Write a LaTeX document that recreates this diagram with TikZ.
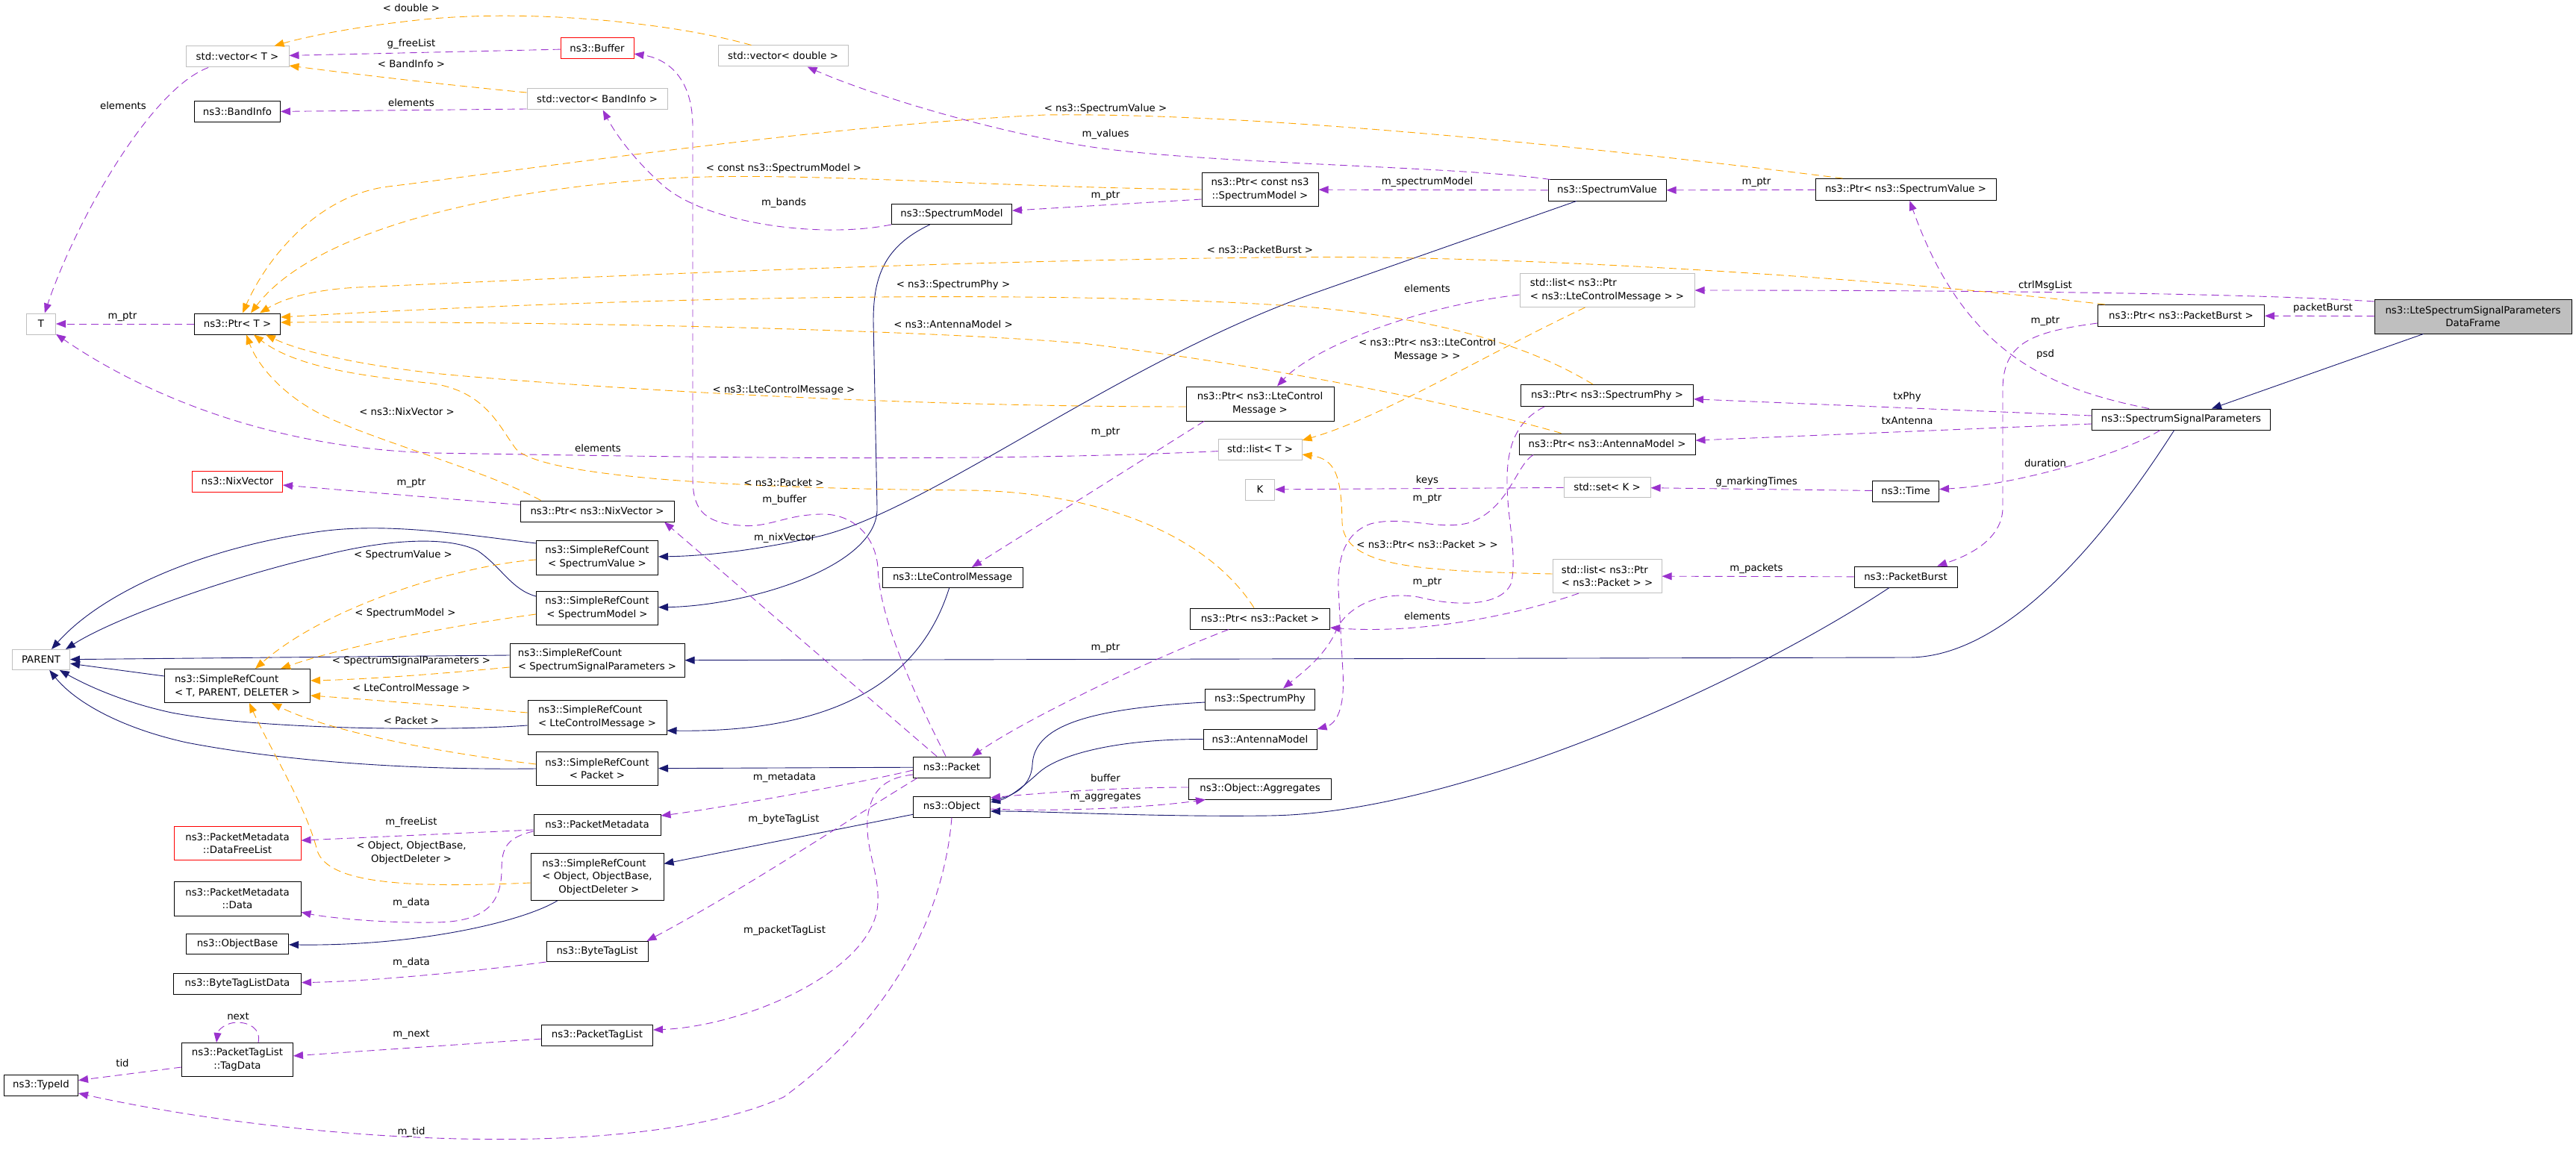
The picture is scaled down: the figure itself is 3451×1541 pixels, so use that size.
\documentclass[tikz,border=0pt]{standalone}
\usepackage{fontspec}
\setmainfont{DejaVu Sans}
\usetikzlibrary{arrows.meta,calc}

\definecolor{navyc}{HTML}{191970}
\definecolor{orchidc}{HTML}{9A32CD}
\definecolor{orangec}{HTML}{FFA500}
\definecolor{greyc}{HTML}{BFBFBF}

\begin{document}
\begin{tikzpicture}[x=1pt, y=-1pt,
  font=\fontsize{13.3}{17.5}\selectfont,
  cls/.style 2 args={draw=black, line width=1pt, fill=white, inner sep=0pt,
    align=center, minimum width=#1pt, minimum height=#2pt},
  ext/.style={draw=greyc},
  trunc/.style={draw=red},
  selfcls/.style={fill=greyc},
  inh/.style={draw=navyc, line width=0.9pt, -{Triangle[length=13pt,width=10pt]}},
  member/.style={draw=orchidc, line width=0.9pt, dash pattern=on 10pt off 6pt,
    -{Triangle[length=13pt,width=10pt]}},
  tmpl/.style={member, draw=orangec},
  lbl/.style={inner sep=0pt, align=center}]

\useasboundingbox (0,0) rectangle (3451,1541);

% ---------- узлы: столбцы идут по рангам графа, координаты в пикселях исходника
\node[cls={138}{28}, ext] (vecT) at (318,76) {std::vector< T >};
\node[cls={115}{28}] (bandinfo) at (318,150) {ns3::BandInfo};
\node[cls={39}{28}, ext] (T) at (55,434) {T};
\node[cls={115}{28}] (ptrT) at (318,434) {ns3::Ptr< T >};
\node[cls={121}{28}, trunc] (nixvec) at (318,645) {ns3::NixVector};
\node[cls={77}{27}, ext] (parent) at (55,884) {PARENT};
\node[cls={195}{45}, align=left] (srcTPD) at (318,919) {ns3::SimpleRefCount\\< T, PARENT, DELETER >};
\node[cls={170}{45}, trunc] (freelist) at (318,1130) {ns3::PacketMetadata\\::DataFreeList};
\node[cls={170}{46}] (pmdata) at (318,1204) {ns3::PacketMetadata\\::Data};
\node[cls={137}{27}] (objbase) at (318,1265) {ns3::ObjectBase};
\node[cls={171}{28}] (btldata) at (318,1318) {ns3::ByteTagListData};
\node[cls={149}{45}] (tagdata) at (318,1420) {ns3::PacketTagList\\::TagData};
\node[cls={99}{28}] (typeid) at (55,1454) {ns3::TypeId};

\node[cls={98}{28}, trunc] (buffer) at (800,65) {ns3::Buffer};
\node[cls={174}{28}, ext] (vecdbl) at (1049,75) {std::vector< double >};
\node[cls={188}{28}, ext] (vecband) at (800,133) {std::vector< BandInfo >};
\node[cls={206}{28}] (ptrnix) at (800,685) {ns3::Ptr< ns3::NixVector >};
\node[cls={163}{46}] (srcSV) at (800,747) {ns3::SimpleRefCount\\< SpectrumValue >};
\node[cls={163}{45}] (srcSM) at (800,815) {ns3::SimpleRefCount\\< SpectrumModel >};
\node[cls={234}{45}, align=left] (srcSSP) at (800,885) {ns3::SimpleRefCount\\< SpectrumSignalParameters >};
\node[cls={186}{46}, align=left] (srcLCM) at (800,961) {ns3::SimpleRefCount\\< LteControlMessage >};
\node[cls={163}{45}] (srcPkt) at (800,1030) {ns3::SimpleRefCount\\< Packet >};
\node[cls={170}{28}] (pmeta) at (800,1105) {ns3::PacketMetadata};
\node[cls={178}{63}, align=left] (srcObj) at (800,1175) {ns3::SimpleRefCount\\< Object, ObjectBase,\\\hspace*{22pt}ObjectDeleter >};
\node[cls={136}{27}] (btl) at (800,1275) {ns3::ByteTagList};
\node[cls={149}{28}] (ptl) at (800,1387) {ns3::PacketTagList};

\node[cls={161}{27}] (specmodel) at (1275,287) {ns3::SpectrumModel};
\node[cls={188}{27}] (lcm) at (1276,774) {ns3::LteControlMessage};
\node[cls={103}{28}] (packet) at (1275,1028) {ns3::Packet};
\node[cls={103}{28}] (object) at (1275,1081) {ns3::Object};

\node[cls={156}{45}] (ptrCSM) at (1688,254) {ns3::Ptr< const ns3\\::SpectrumModel >};
\node[cls={198}{46}] (ptrLCM) at (1688,541) {ns3::Ptr< ns3::LteControl\\Message >};
\node[cls={112}{28}, ext] (listT) at (1688,602) {std::list< T >};
\node[cls={39}{28}, ext] (K) at (1688,656) {K};
\node[cls={187}{28}] (ptrPkt) at (1688,829) {ns3::Ptr< ns3::Packet >};
\node[cls={147}{28}] (specphy) at (1688,937) {ns3::SpectrumPhy};
\node[cls={152}{27}] (antenna) at (1688,991) {ns3::AntennaModel};
\node[cls={191}{28}] (aggr) at (1688,1057) {ns3::Object::Aggregates};

\node[cls={158}{28}] (specval) at (2153,255) {ns3::SpectrumValue};
\node[cls={234}{45}, ext, align=left] (listLCM) at (2153,389) {std::list< ns3::Ptr\\< ns3::LteControlMessage > >};
\node[cls={231}{29}] (ptrPhy) at (2153,530) {ns3::Ptr< ns3::SpectrumPhy >};
\node[cls={236}{28}] (ptrAnt) at (2153,595) {ns3::Ptr< ns3::AntennaModel >};
\node[cls={116}{27}, ext] (setK) at (2153,653) {std::set< K >};
\node[cls={146}{45}, ext, align=left] (listPkt) at (2153,772) {std::list< ns3::Ptr\\< ns3::Packet > >};

\node[cls={242}{29}] (ptrSV) at (2553,254) {ns3::Ptr< ns3::SpectrumValue >};
\node[cls={89}{28}] (time) at (2553,658) {ns3::Time};
\node[cls={138}{28}] (pburst) at (2553,773) {ns3::PacketBurst};

\node[cls={223}{29}] (ptrPB) at (2922,423) {ns3::Ptr< ns3::PacketBurst >};
\node[cls={239}{28}] (ssp) at (2922,562) {ns3::SpectrumSignalParameters};
\node[cls={264}{46}, selfcls] (frame) at (3313,424) {ns3::LteSpectrumSignalParameters\\DataFrame};

% ---------- наследование (сплошные синие)
\draw[inh] (frame) -- (ssp);
\draw[inh] (ssp) .. controls (2840,690) and (2700,881) .. (2557,881) -- (srcSSP);
\draw[inh] (specval) -- (1760,393) .. controls (1500,485) and (1250,680) .. (1100,718)
  .. controls (1020,736) and (950,745) .. (srcSV);
\draw[inh] (specmodel) .. controls (1185,330) and (1170,370) .. (1170,430) -- (1175,680)
  .. controls (1178,760) and (1000,812) .. (srcSM);
\draw[inh] (lcm) .. controls (1235,905) and (1130,982) .. ($(srcLCM.east)+(0,18)$);
\draw[inh] (packet) -- (srcPkt);
\draw[inh] (object) -- (srcObj);
\draw[inh] (srcObj) .. controls (700,1235) and (560,1268) .. (objbase);
\draw[inh] (specphy) .. controls (1450,950) and (1385,975) .. (1383,1025)
  .. controls (1381,1058) and (1350,1068) .. ($(object.east)+(0,-9)$);
\draw[inh] (antenna) .. controls (1500,990) and (1420,1010) .. (1392,1035)
  .. controls (1370,1055) and (1350,1070) .. ($(object.east)+(0,-6)$);
\draw[inh] (pburst) .. controls (2330,920) and (1950,1090) .. (1700,1093)
  .. controls (1550,1095) and (1400,1087) .. ($(object.east)+(0,6)$);
\draw[inh] (srcTPD) -- (parent);
\draw[inh] ($(srcSV.west)+(0,-19)$) .. controls (620,716) and (520,700) .. (430,712)
  .. controls (280,732) and (140,790) .. ($(parent.north)+(14,0)$);
\draw[inh] ($(srcSM.west)+(0,-16)$) .. controls (685,790) and (672,760) .. (640,738)
  .. controls (600,718) and (520,722) .. (430,745)
  .. controls (300,775) and (150,830) .. ($(parent.north east)+(-6,0)$);
\draw[inh] ($(srcSSP.west)+(0,-7)$) -- (parent);
\draw[inh] ($(srcLCM.west)+(0,11)$) .. controls (600,980) and (350,978) .. (230,955)
  .. controls (160,940) and (110,915) .. (parent);
\draw[inh] (srcPkt.west) .. controls (550,1032) and (380,1020) .. (250,995)
  .. controls (160,975) and (100,940) .. (parent);

% ---------- поля классов (фиолетовый пунктир)
\draw[member] (vecT) .. controls (200,120) and (100,300) .. (T);
\draw[member] (buffer) -- (vecT);
\draw[member] ($(vecband.west)+(0,13)$) -- (bandinfo);
\draw[member] (ptrT) -- (T);
\draw[member] (listT) .. controls (1300,620) and (900,612) .. (580,607)
  .. controls (350,600) and (180,520) .. (T);
\draw[member] (ptrnix) -- (nixvec);
\draw[member] (specmodel.south west) .. controls (1100,320) and (950,300) .. (890,250)
  .. controls (850,215) and (825,180) .. (vecband);
% m_buffer петляет вверх вдоль x=928
\draw[member] ($(packet.north)+(-8,0)$) .. controls (1210,900) and (1178,820) .. (1176,760)
  .. controls (1172,715) and (1140,688) .. (1100,689)
  .. controls (1050,690) and (1030,708) .. (990,704)
  .. controls (940,700) and (928,680) .. (928,640) -- (928,170)
  .. controls (928,100) and (890,78) .. (buffer);
\draw[member] ($(packet.north)+(-20,0)$) -- ($(ptrnix.south)+(90,0)$);
\draw[member] ($(ptrLCM.south)+(-75,0)$) -- ($(lcm.north)+(26,0)$);
\draw[member] (specval) -- (ptrCSM);
\draw[member] ($(ptrCSM.west)+(0,13)$) -- (specmodel);
\draw[member] ($(specval.north west)+(3,0)$) .. controls (1950,222) and (1600,220) .. (1450,195)
  .. controls (1300,170) and (1150,120) .. (vecdbl);
\draw[member] (ptrSV) -- (specval);
\draw[member] ($(ssp.north)+(-43,0)$) .. controls (2740,520) and (2630,470) .. (ptrSV);
\draw[member] ($(frame.west)+(0,-20)$) .. controls (3000,392) and (2600,389) .. (listLCM);
\draw[member] (frame) -- (ptrPB);
\draw[member] ($(ptrPB.west)+(0,10)$) .. controls (2720,445) and (2684,460) .. (2683,520)
  -- (2683,680) .. controls (2683,730) and (2620,750) .. (pburst);
\draw[member] ($(ssp.west)+(0,-5)$) -- (ptrPhy);
\draw[member] ($(ssp.west)+(0,6)$) -- (ptrAnt);
\draw[member] ($(ssp.south)+(-28,0)$) .. controls (2840,610) and (2700,650) .. (time);
\draw[member] (time) -- (setK);
\draw[member] (setK) -- (K);
\draw[member] (pburst) -- (listPkt);
\draw[member] ($(listLCM.west)+(0,6)$) .. controls (1900,410) and (1760,465) .. ($(ptrLCM.north)+(23,0)$);
\draw[member] ($(ptrPhy.south)+(-84,0)$) .. controls (2030,565) and (2018,600) .. (2019,650)
  .. controls (2020,700) and (2032,740) .. (2025,780)
  .. controls (2015,810) and (1960,815) .. (1900,800)
  .. controls (1840,790) and (1800,820) .. (1790,845)
  .. controls (1775,880) and (1740,905) .. ($(specphy.north)+(31,0)$);
\draw[member] ($(ptrAnt.south)+(-99,0)$) .. controls (2030,625) and (2022,680) .. (1970,700)
  .. controls (1930,712) and (1880,690) .. (1836,702)
  .. controls (1800,715) and (1792,750) .. (1793,790) -- (1799,900)
  .. controls (1802,950) and (1790,970) .. (antenna.north east);
\draw[member] ($(listPkt.south)+(-38,0)$) .. controls (2030,825) and (1900,850) .. ($(ptrPkt.east)+(0,12)$);
\draw[member] ($(ptrPkt.south)+(-42,0)$) .. controls (1550,880) and (1380,960) .. ($(packet.north east)+(-25,0)$);
\draw[member] ($(aggr.west)+(0,-2)$) .. controls (1500,1055) and (1400,1062) .. ($(object.east)+(0,-12)$);
\draw[member] ($(object.east)+(0,3)$) .. controls (1420,1088) and (1540,1082) .. ($(aggr.south west)+(23,0)$);
\draw[member] ($(packet.west)+(0,4)$) .. controls (1150,1050) and (950,1085) .. ($(pmeta.east)+(0,-12)$);
\draw[member] ($(packet.south west)+(6,0)$) .. controls (1150,1090) and (1000,1190) .. ($(btl.north east)+(-2,0)$);
\draw[member] ($(packet.west)+(0,10)$) .. controls (1185,1042) and (1165,1060) .. (1162,1100)
  .. controls (1160,1140) and (1178,1170) .. (1176,1210)
  .. controls (1172,1300) and (1000,1375) .. ($(ptl.east)+(0,-7)$);
\draw[member] (object.south) .. controls (1265,1220) and (1200,1360) .. (1050,1470)
  .. controls (850,1560) and (400,1530) .. (typeid);
\draw[member] ($(pmeta.west)+(0,7)$) -- (freelist);
\draw[member] ($(pmeta.west)+(0,9)$) .. controls (680,1122) and (672,1135) .. (672,1165)
  .. controls (672,1215) and (645,1236) .. (580,1236)
  .. controls (500,1237) and (430,1228) .. (pmdata);
\draw[member] (btl.south west) .. controls (650,1300) and (500,1315) .. (btldata);
\draw[member] (ptl) -- (tagdata);
\draw[member] ($(tagdata.north)+(28,0)$) .. controls (350,1378) and (333,1370) .. (318,1370)
  .. controls (303,1370) and (292,1380) .. ($(tagdata.north)+(-28,0)$);
\draw[member] ($(tagdata.west)+(0,10)$) -- (typeid);

% ---------- шаблонные экземпляры (оранжевый пунктир)
\draw[tmpl] ($(vecdbl.north west)+(45,0)$) .. controls (900,30) and (700,10) .. (550,28)
  .. controls (460,38) and (400,52) .. ($(vecT.north east)+(-20,0)$);
\draw[tmpl] ($(vecband.west)+(0,-9)$) .. controls (600,114) and (480,100) .. ($(vecT.east)+(0,12)$);
% восемь специализаций Ptr сходятся к ns3::Ptr< T >
\draw[tmpl] ($(ptrSV.north west)+(37,0)$) .. controls (2200,205) and (1700,150) .. (1400,154)
  .. controls (1100,168) and (700,228) .. (520,250)
  .. controls (430,261) and (360,340) .. ($(ptrT.north)+(7,0)$);
\draw[tmpl] (ptrCSM.west) .. controls (1300,250) and (1050,228) .. (880,240)
  .. controls (650,256) and (420,310) .. ($(ptrT.north)+(18,0)$);
\draw[tmpl] ($(ptrPB.north west)+(10,0)$) .. controls (2500,370) and (2000,340) .. (1700,345)
  .. controls (1200,350) and (600,380) .. (480,385)
  .. controls (420,388) and (380,400) .. ($(ptrT.north)+(30,0)$);
\draw[tmpl] ($(ptrPhy.north)+(-19,0)$) .. controls (2060,470) and (1950,430) .. (1760,412)
  .. controls (1400,385) and (800,400) .. ($(ptrT.east)+(0,-9)$);
\draw[tmpl] ($(ptrAnt.north west)+(57,0)$) .. controls (1950,540) and (1700,490) .. (1450,460)
  .. controls (1200,440) and (700,430) .. ($(ptrT.east)+(0,-2)$);
\draw[tmpl] ($(ptrLCM.west)+(0,4)$) .. controls (1200,545) and (800,520) .. (600,502)
  .. controls (480,490) and (400,470) .. ($(ptrT.south)+(38,0)$);
\draw[tmpl] ($(ptrnix.north west)+(28,0)$) .. controls (650,630) and (500,590) .. (430,555)
  .. controls (380,530) and (345,490) .. ($(ptrT.south)+(12,0)$);
\draw[tmpl] ($(ptrPkt.north)+(-8,0)$) .. controls (1620,720) and (1480,660) .. (1300,657)
  .. controls (1000,655) and (720,640) .. (690,600)
  .. controls (668,570) and (650,525) .. (580,514)
  .. controls (500,505) and (400,495) .. ($(ptrT.south)+(22,0)$);
\draw[tmpl] ($(listLCM.south west)+(88,0)$) .. controls (2000,470) and (1850,560) .. ($(listT.east)+(0,-12)$);
\draw[tmpl] ($(listPkt.west)+(0,-3)$) .. controls (1900,765) and (1800,760) .. (1798,700)
  .. controls (1797,640) and (1790,615) .. ($(listT.east)+(0,7)$);
% шесть специализаций SimpleRefCount
\draw[tmpl] ($(srcSV.west)+(0,3)$) .. controls (620,757) and (440,810) .. ($(srcTPD.north)+(24,0)$);
\draw[tmpl] ($(srcSM.west)+(0,8)$) .. controls (580,842) and (450,870) .. ($(srcTPD.north)+(58,0)$);
\draw[tmpl] ($(srcSSP.west)+(0,9)$) .. controls (600,902) and (500,910) .. ($(srcTPD.east)+(0,-7)$);
\draw[tmpl] ($(srcLCM.west)+(0,-6)$) .. controls (600,946) and (500,938) .. ($(srcTPD.east)+(0,13)$);
\draw[tmpl] ($(srcPkt.west)+(0,-6)$) .. controls (560,1005) and (430,975) .. ($(srcTPD.south)+(46,0)$);
\draw[tmpl] ($(srcObj.west)+(0,8)$) .. controls (550,1190) and (440,1185) .. (425,1140)
  .. controls (410,1080) and (360,1000) .. ($(srcTPD.south)+(16,0)$);

% ---------- подписи рёбер
\node[lbl] (lbDouble) at (551,11) {< double >};
\node[lbl] (lbFreeList) at (551,59) {g\_freeList};
\node[lbl] (lbBandInfo) at (551,86) {< BandInfo >};
\node[lbl] (lbElemVec) at (165,142) {elements};
\node[lbl] (lbElemBand) at (551,138) {elements};
\node[lbl] (lbPtrT) at (164,424) {m\_ptr};
\node[lbl] (lbNixT) at (545,552) {< ns3::NixVector >};
\node[lbl] (lbPtrNix) at (551,647) {m\_ptr};
\node[lbl] (lbSV) at (540,744) {< SpectrumValue >};
\node[lbl] (lbSM) at (543,822) {< SpectrumModel >};
\node[lbl] (lbSSP) at (551,886) {< SpectrumSignalParameters >};
\node[lbl] (lbLCM) at (551,923) {< LteControlMessage >};
\node[lbl] (lbPkt) at (551,966) {< Packet >};
\node[lbl] (lbMFree) at (551,1102) {m\_freeList};
\node[lbl] (lbObj) at (551,1143) {< Object, ObjectBase,\\ObjectDeleter >};
\node[lbl] (lbData1) at (551,1210) {m\_data};
\node[lbl] (lbData2) at (551,1290) {m\_data};
\node[lbl] (lbNext) at (319,1362) {next};
\node[lbl] (lbMNext) at (551,1386) {m\_next};
\node[lbl] (lbTid) at (164,1425) {tid};
\node[lbl] (lbMTid) at (551,1517) {m\_tid};
\node[lbl] (lbCSM) at (1050,226) {< const ns3::SpectrumModel >};
\node[lbl] (lbBands) at (1050,272) {m\_bands};
\node[lbl] (lbLCMP) at (1050,523) {< ns3::LteControlMessage >};
\node[lbl] (lbElemList) at (801,601) {elements};
\node[lbl] (lbPktP) at (1050,647) {< ns3::Packet >};
\node[lbl] (lbBuffer) at (1051,670) {m\_buffer};
\node[lbl] (lbNix) at (1051,721) {m\_nixVector};
\node[lbl] (lbMeta) at (1051,1042) {m\_metadata};
\node[lbl] (lbBTL) at (1050,1098) {m\_byteTagList};
\node[lbl] (lbPTL) at (1051,1247) {m\_packetTagList};
\node[lbl] (lbSVP) at (1481,146) {< ns3::SpectrumValue >};
\node[lbl] (lbValues) at (1481,180) {m\_values};
\node[lbl] (lbPtrSM) at (1481,262) {m\_ptr};
\node[lbl] (lbPBP) at (1688,335) {< ns3::PacketBurst >};
\node[lbl] (lbPhyP) at (1277,382) {< ns3::SpectrumPhy >};
\node[lbl] (lbAntP) at (1277,435) {< ns3::AntennaModel >};
\node[lbl] (lbPtrLCM) at (1481,579) {m\_ptr};
\node[lbl] (lbPtrPkt) at (1481,868) {m\_ptr};
\node[lbl] (lbAggBuf) at (1481,1043) {buffer};
\node[lbl] (lbAggr) at (1481,1068) {m\_aggregates};
\node[lbl] (lbSpecModel) at (1912,244) {m\_spectrumModel};
\node[lbl] (lbElemLCM) at (1912,387) {elements};
\node[lbl] (lbListLCM) at (1912,469) {< ns3::Ptr< ns3::LteControl\\Message > >};
\node[lbl] (lbKeys) at (1912,644) {keys};
\node[lbl] (lbPtrAnt) at (1912,668) {m\_ptr};
\node[lbl] (lbListPkt) at (1912,730) {< ns3::Ptr< ns3::Packet > >};
\node[lbl] (lbPtrPhy) at (1912,780) {m\_ptr};
\node[lbl] (lbElemPkt) at (1912,826) {elements};
\node[lbl] (lbPtrSV) at (2353,244) {m\_ptr};
\node[lbl] (lbMarking) at (2353,646) {g\_markingTimes};
\node[lbl] (lbPackets) at (2353,762) {m\_packets};
\node[lbl] (lbTxPhy) at (2555,532) {txPhy};
\node[lbl] (lbTxAnt) at (2555,564) {txAntenna};
\node[lbl] (lbCtrl) at (2740,383) {ctrlMsgList};
\node[lbl] (lbPtrPB) at (2740,430) {m\_ptr};
\node[lbl] (lbPsd) at (2740,475) {psd};
\node[lbl] (lbDuration) at (2740,621) {duration};
\node[lbl] (lbBurst) at (3112,413) {packetBurst};
\end{tikzpicture}
\end{document}
